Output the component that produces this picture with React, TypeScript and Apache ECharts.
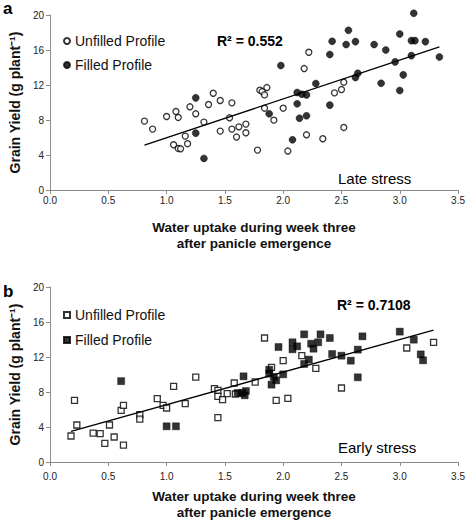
import React, { useEffect, useRef } from "react";
import * as echarts from "echarts";

// ---- Data ----
const X_TICK_MIN = 0;
const X_TICK_MAX = 3.5;
const X_TICK_STEP = 0.5;
const Y_TICK_MIN = 0;
const Y_TICK_MAX = 20;
const Y_TICK_STEP = 4;

const SERIES_NAMES = ["Unfilled Profile", "Filled Profile"];

// Panel a: late stress
const lateUnfilled: [number, number][] = [
  [0.81, 7.87], [0.88, 6.96], [1.0, 8.4], [1.08, 8.97], [1.1, 8.29], [1.06, 5.17],
  [1.1, 4.75], [1.12, 4.71], [1.16, 6.16], [1.18, 5.29], [1.2, 9.51], [1.25, 8.71],
  [1.32, 7.76], [1.36, 9.77], [1.4, 11.06], [1.46, 10.23], [1.56, 9.96], [1.54, 8.25],
  [1.46, 6.73], [1.56, 6.96], [1.6, 6.05], [1.62, 7.22], [1.68, 7.53], [1.68, 6.54],
  [1.78, 4.56], [1.8, 11.41], [1.82, 11.25], [1.84, 10.87], [1.86, 11.71], [1.84, 9.35],
  [1.92, 7.98], [2.0, 9.35], [2.04, 4.45], [2.18, 13.88], [2.22, 15.74], [2.2, 6.31],
  [2.34, 5.86], [2.44, 11.1], [2.5, 11.48], [2.52, 12.32], [2.52, 7.15],
];
const lateFilled: [number, number][] = [
  [1.25, 10.53], [1.25, 6.5], [1.32, 3.61], [1.88, 8.71], [1.98, 14.22], [2.08, 5.74],
  [2.12, 11.14], [2.12, 9.85], [2.14, 8.21], [2.16, 10.95], [2.2, 10.87], [2.2, 8.48],
  [2.28, 12.17], [2.4, 15.48], [2.42, 17.0], [2.4, 9.7], [2.54, 16.62], [2.56, 18.25],
  [2.62, 16.96], [2.62, 12.85], [2.64, 13.35], [2.78, 16.62], [2.84, 12.2], [2.88, 16.0],
  [2.96, 14.64], [3.0, 17.83], [3.0, 11.37], [3.03, 13.16], [3.1, 17.07], [3.13, 17.07],
  [3.1, 15.36], [3.12, 20.2], [3.22, 16.96], [3.34, 15.21],
];
const lateSlope = 4.44;
const lateIntercept = 1.53;
const lateR2 = "R² = 0.552";
const lateLabel = "Late stress";

// Panel b: early stress
const earlyUnfilled: [number, number][] = [
  [0.18, 2.97], [0.21, 7.05], [0.23, 4.23], [0.37, 3.31], [0.43, 3.24], [0.47, 2.13],
  [0.51, 4.23], [0.55, 2.86], [0.61, 5.9], [0.63, 6.48], [0.63, 1.94], [0.77, 5.41],
  [0.77, 4.91], [0.92, 7.24], [0.97, 6.48], [1.0, 6.17], [1.06, 8.65], [1.16, 6.67],
  [1.25, 9.71], [1.41, 8.38], [1.44, 8.19], [1.44, 7.5], [1.44, 5.07], [1.48, 7.12],
  [1.52, 7.81], [1.58, 9.03], [1.59, 7.77], [1.76, 9.14], [1.84, 14.17], [1.9, 10.82],
  [1.94, 7.05], [2.0, 11.58], [2.04, 7.28], [2.16, 12.15], [2.28, 10.7], [2.5, 8.46],
  [3.06, 13.03], [3.29, 13.68],
];
const earlyFilled: [number, number][] = [
  [0.61, 9.24], [1.0, 4.08], [1.08, 4.08], [1.66, 9.79], [1.61, 7.89], [1.65, 7.89],
  [1.67, 7.62], [1.68, 8.11], [1.88, 10.55], [1.88, 10.1], [1.92, 9.71], [1.9, 8.84],
  [1.94, 9.33], [1.96, 13.14], [2.0, 10.02], [2.08, 13.68], [2.08, 12.88], [2.12, 13.22],
  [2.18, 11.2], [2.18, 14.59], [2.22, 11.7], [2.24, 13.52], [2.26, 12.95], [2.3, 13.68],
  [2.32, 14.59], [2.4, 14.17], [2.42, 12.34], [2.5, 12.15], [2.58, 11.58], [2.64, 12.84],
  [2.64, 9.68], [2.68, 14.36], [3.0, 14.9], [3.12, 13.98], [3.18, 12.3], [3.2, 11.62],
];
const earlySlope = 3.72;
const earlyIntercept = 2.83;
const earlyR2 = "R² = 0.7108";
const earlyLabel = "Early stress";

const X_TITLE = "Water uptake during week three\nafter panicle emergence";
const Y_TITLE = "Grain Yield (g plant⁻¹)";

// ---- helpers ----
const FONT = "'Liberation Sans', Arial, Helvetica, sans-serif";

function trend(points: [number, number][][], slope: number, intercept: number): [number, number][] {
  const xs = points.flat().map((p) => p[0]);
  const x0 = Math.min(...xs);
  const x1 = Math.max(...xs);
  return [
    [x0, slope * x0 + intercept],
    [x1, slope * x1 + intercept],
  ];
}

export default function App() {
  const ref = useRef<HTMLDivElement>(null);

  useEffect(() => {
    if (!ref.current) return;
    const chart = echarts.init(ref.current, undefined, { renderer: "svg" });

    const axisColor = "#8c8c8c";
    const makeX = (gi: number, labelMargin: number, nameGap: number) => ({
      type: "value",
      gridIndex: gi,
      min: X_TICK_MIN,
      max: X_TICK_MAX,
      interval: X_TICK_STEP,
      axisLine: { show: true, lineStyle: { color: axisColor, width: 1 } },
      axisTick: { show: true, length: 4, lineStyle: { color: axisColor } },
      axisLabel: {
        formatter: (v: number) => v.toFixed(1),
        fontSize: 10,
        color: "#222",
        margin: labelMargin,
        fontFamily: FONT,
      },
      splitLine: { show: false },
      name: X_TITLE,
      nameLocation: "middle",
      nameGap,
      nameTextStyle: {
        fontWeight: "bold",
        fontSize: 13.5,
        lineHeight: 16,
        color: "#111",
        fontFamily: FONT,
      },
    });
    const makeY = (gi: number) => ({
      type: "value",
      gridIndex: gi,
      min: Y_TICK_MIN,
      max: Y_TICK_MAX,
      interval: Y_TICK_STEP,
      axisLine: { show: true, lineStyle: { color: axisColor, width: 1 } },
      axisTick: { show: true, length: 4, lineStyle: { color: axisColor } },
      axisLabel: { fontSize: 10, color: "#222", margin: 6, fontFamily: FONT },
      splitLine: { show: false },
      name: Y_TITLE,
      nameLocation: "middle",
      nameGap: 25,
      nameRotate: 90,
      nameTextStyle: { fontWeight: "bold", fontSize: 14, color: "#111", fontFamily: FONT },
    });

    const unfilledStyle = { color: "#ffffff", borderColor: "#000000", borderWidth: 1.3 };
    const filledStyle = { color: "#000000", borderColor: "#000000", borderWidth: 0.5 };

    const scatter = (
      name: string,
      data: [number, number][],
      gi: number,
      symbol: string,
      style: any,
      size: number
    ) => ({
      type: "scatter",
      name,
      xAxisIndex: gi,
      yAxisIndex: gi,
      data,
      symbol,
      symbolSize: size,
      itemStyle: style,
      clip: false,
      z: 3,
    });
    const line = (data: [number, number][], gi: number) => ({
      type: "line",
      name: "trend" + gi,
      xAxisIndex: gi,
      yAxisIndex: gi,
      data,
      symbol: "none",
      lineStyle: { color: "#000", width: 1.3 },
      z: 4,
      silent: true,
    });

    const textEl = (x: number, y: number, text: string, font: string) => ({
      type: "text",
      x,
      y,
      style: {
        text,
        font,
        fill: "#000",
        textAlign: "left",
        textVerticalAlign: "middle",
      },
    });

    const legendText = { fontSize: 14, lineHeight: 16, color: "#111", fontFamily: FONT };

    const option: any = {
      animation: false,
      backgroundColor: "#ffffff",
      textStyle: { fontFamily: FONT },
      grid: [
        { left: 45, top: 15, width: 414, height: 175 },
        { left: 45, top: 287, width: 414, height: 175 },
      ],
      xAxis: [makeX(0, 5, 29), makeX(1, 9, 26)],
      yAxis: [makeY(0), makeY(1)],
      legend: [
        {
          orient: "vertical",
          left: 58,
          top: 28,
          itemWidth: 6,
          itemHeight: 6,
          itemGap: 8,
          selectedMode: false,
          textStyle: legendText,
          data: [
            { name: SERIES_NAMES[0], icon: "circle" },
            { name: SERIES_NAMES[1], icon: "circle" },
          ],
        },
        {
          orient: "vertical",
          left: 58,
          top: 302,
          itemWidth: 6,
          itemHeight: 6,
          itemGap: 9,
          selectedMode: false,
          textStyle: legendText,
          data: [
            { name: SERIES_NAMES[0], icon: "rect" },
            { name: SERIES_NAMES[1], icon: "rect" },
          ],
        },
      ],
      series: [
        scatter(SERIES_NAMES[0], lateUnfilled, 0, "circle", unfilledStyle, 6),
        scatter(SERIES_NAMES[1], lateFilled, 0, "circle", filledStyle, 7),
        line(trend([lateUnfilled, lateFilled], lateSlope, lateIntercept), 0),
        scatter(SERIES_NAMES[0], earlyUnfilled, 1, "rect", unfilledStyle, 6),
        scatter(SERIES_NAMES[1], earlyFilled, 1, "rect", filledStyle, 7),
        line(trend([earlyUnfilled, earlyFilled], earlySlope, earlyIntercept), 1),
      ],
      graphic: [
        textEl(3, 8, "a", `bold 17px ${FONT}`),
        textEl(3, 291, "b", `bold 17px ${FONT}`),
        textEl(217, 41, lateR2, `bold 14px ${FONT}`),
        textEl(337, 305, earlyR2, `bold 14px ${FONT}`),
        textEl(338, 178, lateLabel, `15px ${FONT}`),
        textEl(338, 447, earlyLabel, `15px ${FONT}`),
      ],
    };

    chart.setOption(option);
    return () => chart.dispose();
  }, []);

  return (
    <div
      ref={ref}
      style={{ position: "absolute", left: 0, top: 0, width: 468, height: 521, background: "#fff" }}
    />
  );
}
